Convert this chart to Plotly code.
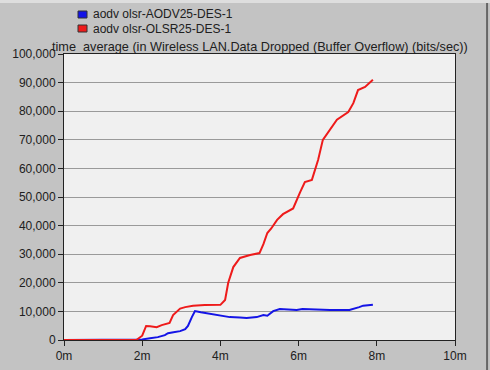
import plotly.graph_objects as go

# time in minutes, values in bits/sec
aodv_t = [0, 1.0, 1.8, 2.0, 2.2, 2.4, 2.58, 2.66, 2.8, 2.97, 3.1, 3.17, 3.27, 3.35, 3.5, 3.8, 4.0, 4.24, 4.5, 4.67, 4.93, 5.1, 5.2, 5.35, 5.52, 5.75, 5.95, 6.1, 6.4, 6.8, 7.3, 7.45, 7.55, 7.65, 7.9]
aodv_v = [0, 0, 0, 200, 600, 1000, 1700, 2400, 2700, 3100, 3800, 4900, 8000, 10100, 9700, 9100, 8700, 8000, 7900, 7700, 8000, 8700, 8500, 10100, 10800, 10500, 10500, 10800, 10600, 10500, 10500, 11000, 11500, 12000, 12300]

olsr_t = [0, 1.0, 1.85, 2.0, 2.1, 2.2, 2.37, 2.5, 2.63, 2.7, 2.79, 2.97, 3.1, 3.3, 3.6, 4.0, 4.12, 4.2, 4.33, 4.5, 4.76, 4.9, 5.0, 5.1, 5.2, 5.3, 5.45, 5.6, 5.86, 6.04, 6.16, 6.34, 6.5, 6.62, 6.8, 6.98, 7.27, 7.4, 7.52, 7.7, 7.9]
olsr_v = [0, 0, 0, 1500, 4900, 4800, 4500, 5200, 5600, 6000, 8700, 11000, 11500, 12000, 12200, 12300, 14000, 20000, 25500, 28700, 29700, 30000, 30400, 33500, 37400, 39000, 42000, 44000, 46000, 51700, 55200, 56000, 63000, 70000, 73400, 77000, 79700, 82800, 87400, 88500, 91000]

names = ["aodv olsr-AODV25-DES-1", "aodv olsr-OLSR25-DES-1"]
colors = ["#1414e6", "#ee1b1b"]
title = "time_average (in Wireless LAN.Data Dropped (Buffer Overflow) (bits/sec))"
x_ticks = [0, 2, 4, 6, 8, 10]
x_labels = ["0m", "2m", "4m", "6m", "8m", "10m"]
y_ticks = list(range(0, 100001, 10000))

fig = go.Figure()
for t, v, c, n in [(aodv_t, aodv_v, colors[0], names[0]), (olsr_t, olsr_v, colors[1], names[1])]:
    fig.add_trace(go.Scatter(x=t, y=v, mode="lines", name=n, line=dict(color=c, width=2),
                             showlegend=False, hoverinfo="skip"))

annotations = [dict(text=title, x=0.5, y=1.0, xref="paper", yref="paper",
                    xanchor="center", yanchor="bottom", showarrow=False,
                    font=dict(size=12.7, color="#202020"), yshift=-2)]
shapes = [
    dict(type="line", xref="paper", yref="paper", x0=1.082, x1=1.082, y0=-0.2, y1=1.3,
         line=dict(color="#666666", width=2)),
    dict(type="rect", xref="paper", yref="paper", x0=-0.2, x1=1.2, y0=1.178, y1=1.3,
         line=dict(width=0), fillcolor="#dedede"),
]
# legend (drawn as annotations + swatches, to match the compact original legend)
for i, (n, c) in enumerate(zip(names, colors)):
    yc = 1.0 + (54 - (14.5 + 14 * i)) / 286.0
    annotations.append(dict(text=n, x=(91 - 64) / 391.0, y=yc, xref="paper", yref="paper",
                            xanchor="left", yanchor="middle", showarrow=False,
                            font=dict(size=12, color="#202020")))
    shapes.append(dict(type="rect", xref="paper", yref="paper",
                       x0=(78 - 64) / 391.0, x1=(87 - 64) / 391.0,
                       y0=yc - 3.5 / 286.0, y1=yc + 3.5 / 286.0,
                       fillcolor=c, line=dict(color="#333333", width=1)))

fig.update_layout(
    width=490, height=370,
    margin=dict(l=64, r=35, t=54, b=30, autoexpand=False),
    paper_bgcolor="#c3c3c3",
    plot_bgcolor="#f0f0f0",
    font=dict(family="Liberation Sans, Arial, sans-serif", size=12, color="#202020"),
    showlegend=False,
    annotations=annotations,
    shapes=shapes,
)
fig.update_xaxes(range=[0, 10], tickvals=x_ticks, ticktext=x_labels, showgrid=False,
                 showline=True, linecolor="#222222", linewidth=1, mirror=True,
                 ticks="outside", ticklen=5, tickcolor="#222222", zeroline=False,
                 tickfont=dict(size=12))
fig.update_yaxes(range=[0, 100000], tickvals=y_ticks, tickformat=",d", showgrid=True,
                 gridcolor="#9a9a9a", gridwidth=1, showline=True, linecolor="#222222",
                 linewidth=1, mirror=True, ticks="outside", ticklen=5, tickcolor="#222222",
                 zeroline=False, tickfont=dict(size=12))

fig.write_html("out.html")
